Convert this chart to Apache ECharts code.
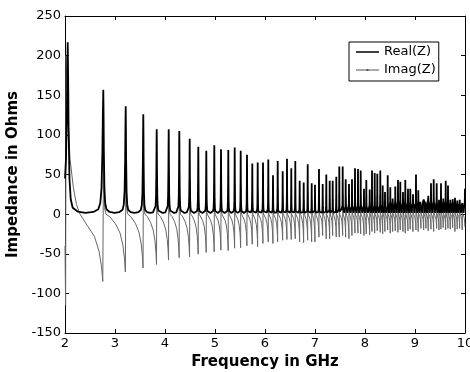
<!DOCTYPE html>
<html>
<head>
<meta charset="utf-8">
<script src="https://cdn.jsdelivr.net/npm/echarts@6/dist/echarts.min.js"></script>
<style>
  html, body { margin: 0; padding: 0; background: #fff; }
  #main { width: 470px; height: 372px; }
</style>
</head>
<body>
<div id="main"></div>
<script>
// 坐标轴刻度
var xTicks = [2, 3, 4, 5, 6, 7, 8, 9, 10];
var yTicks = [-150, -100, -50, 0, 50, 100, 150, 200, 250];

// 谐振频率 (GHz)
var peakGHz = [2.054, 2.766, 3.214, 3.566, 3.834, 4.074, 4.286, 4.494, 4.666, 4.826,
  4.986, 5.12, 5.266, 5.394, 5.514, 5.64, 5.746, 5.854, 5.96, 6.066,
  6.16, 6.254, 6.354, 6.44, 6.526, 6.606, 6.694, 6.774, 6.854, 6.934,
  7.0, 7.08, 7.154, 7.226, 7.294, 7.354, 7.426, 7.486, 7.554, 7.614,
  7.68, 7.74, 7.8, 7.86, 7.914, 7.98, 8.026, 8.094, 8.14, 8.194,
  8.246, 8.306, 8.354, 8.4, 8.454, 8.506, 8.554, 8.606, 8.66, 8.706,
  8.76, 8.806, 8.86, 8.906, 8.96, 9.02, 9.066, 9.12, 9.174, 9.22,
  9.266, 9.32, 9.374, 9.434, 9.48, 9.52, 9.566, 9.614, 9.66, 9.706,
  9.754, 9.8, 9.846, 9.894, 9.946, 9.998];
// Real(Z) 峰值
var realPeak = [217, 157, 136, 126, 107, 107, 105, 95, 85, 80,
  87, 82, 81, 84, 80, 75, 64, 65, 65, 69,
  49, 67, 54, 70, 58, 67, 42, 40, 63, 39,
  37, 57, 38, 50, 42, 42, 47, 60, 60, 44,
  38, 44, 58, 57, 55, 32, 43, 31, 55, 52,
  51, 55, 36, 28, 49, 34, 22, 35, 43, 41,
  28, 43, 32, 32, 25, 50, 30, 18, 19, 18,
  25, 39, 44, 39, 18, 39, 22, 42, 36, 18,
  21, 23, 19, 18, 15, 32];
// Imag(Z) 谷值 (每个峰之前)
var imagDip = [-115, -85, -73, -68, -63.5, -58, -55, -54, -50.5, -48.4,
  -47.5, -45.4, -46, -43, -42.5, -40, -38, -41, -37, -35,
  -37, -35, -33, -32, -32, -31, -35, -36, -33, -35,
  -35, -29, -27, -31, -31, -27, -29, -29, -27, -29,
  -31, -27, -24, -24, -25, -27, -25, -26, -22, -24,
  -21, -23, -25, -22, -20, -24, -22, -21, -23, -20,
  -22, -24, -21, -19, -22, -20, -22, -18, -20, -18,
  -21, -19, -22, -18, -20, -19, -17, -20, -18, -19,
  -17, -22, -19, -18, -20, -16];

// 2 GHz 起点附近的曲线
var realLead = [[2.0, 45], [2.02, 70], [2.036, 120]];
var imagLead = [[2.0, -40], [2.012, -115], [2.022, 200], [2.06, 120], [2.1, 70], [2.166, 34], [2.23, 12], [2.3, 0]];
// Real(Z) 峰间最低值
var realBase = 1.5;
// 高频段峰脚抬高 (阶梯, 从图上读出)
var realFoot = [[2, 0], [7.5, 5], [8.5, 9], [9.1, 14], [9.3, 9]];
// 单峰形状: [离峰距离/峰间距, 峰高比例]
var realShape = [[0.012, 0.8], [0.025, 0.5], [0.05, 0.2], [0.085, 0.08], [0.14, 0.03], [0.28, 0.008]];
// 峰间虚部形状: [间距比例, 上冲比例, 谷值比例]
var imagShape = [[0.01, 1, 0], [0.05, 0.12, 0], [0.12, 0, 0], [0.3, 0, 0.05], [0.55, 0, 0.17],
  [0.75, 0, 0.33], [0.88, 0, 0.55], [0.95, 0, 0.78], [0.985, 0, 1]];

function footAt(f) {
  var v = realFoot[0][1];
  for (var i = 0; i < realFoot.length; i++) {
    if (realFoot[i][0] <= f) v = realFoot[i][1];
  }
  return v;
}

function buildReal() {
  var pts = realLead.slice();
  var n = peakGHz.length;
  for (var i = 0; i < n; i++) {
    var f = peakGHz[i], h = realPeak[i], foot = realBase + footAt(f);
    var gL = i > 0 ? f - peakGHz[i - 1] : 0;
    var gR = i < n - 1 ? peakGHz[i + 1] - f : 0;
    // 左侧
    if (i > 0) {
      for (var j = realShape.length - 1; j >= 0; j--) {
        pts.push([f - realShape[j][0] * gL, foot + realShape[j][1] * (h - foot)]);
      }
    }
    pts.push([f, h]);
    // 右侧
    if (i < n - 1) {
      for (var j = 0; j < realShape.length; j++) {
        pts.push([f + realShape[j][0] * gR, foot + realShape[j][1] * (h - foot)]);
      }
      pts.push([f + 0.5 * gR, realBase]);
    }
  }
  return pts;
}

function buildImag() {
  var pts = imagLead.slice();
  var n = peakGHz.length;
  for (var i = 0; i < n - 1; i++) {
    var f = peakGHz[i], g = peakGHz[i + 1] - f;
    var rise = 0.45 * realPeak[i];
    for (var j = 0; j < imagShape.length; j++) {
      var x = f + imagShape[j][0] * g;
      if (x <= pts[pts.length - 1][0]) continue;
      pts.push([x, imagShape[j][1] * rise + imagShape[j][2] * imagDip[i + 1]]);
    }
  }
  return pts;
}

var font = 'DejaVu Sans';
var myChart = echarts.init(document.getElementById('main'), null, { renderer: 'canvas' });

function axisCommon(ticks) {
  return {
    type: 'value',
    min: ticks[0],
    max: ticks[ticks.length - 1],
    interval: ticks[1] - ticks[0],
    axisLine: { show: true, onZero: false, lineStyle: { color: '#000', width: 1 } },
    axisTick: { show: true, inside: true, length: 4, lineStyle: { color: '#000' } },
    splitLine: { show: false }
  };
}

var option = {
  animation: false,
  backgroundColor: '#fff',
  grid: { left: 65, right: 5, top: 16, bottom: 39, containLabel: false, outerBoundsMode: 'none' },
  legend: {
    orient: 'vertical',
    left: 349,
    top: 42,
    padding: [3, 3, 4, 7],
    itemWidth: 23,
    itemHeight: 7,
    itemGap: 4,
    borderColor: '#000',
    borderWidth: 1,
    backgroundColor: '#fff',
    textStyle: { fontFamily: font, fontSize: 13, color: '#000', lineHeight: 14 },
    data: [
      { name: 'Real(Z)', icon: 'path://M0,0H0.01V0.01Z M0,2.8H23V4.2H0Z M22.99,7H23V6.99Z', itemStyle: { color: '#000', borderWidth: 0 } },
      { name: 'Imag(Z)', icon: 'path://M0,0H0.01V0.01Z M0,3.1H23V3.9H0Z M10.5,2.5H12.5V4.5H10.5Z M22.99,7H23V6.99Z', itemStyle: { color: '#555', borderWidth: 0 } }
    ]
  },
  xAxis: [
    Object.assign(axisCommon(xTicks), {
      position: 'bottom',
      axisLabel: { fontFamily: font, fontSize: 13, color: '#000', margin: 4 },
      name: 'Frequency in GHz',
      nameLocation: 'middle',
      nameGap: 17,
      nameTextStyle: { fontFamily: font, fontSize: 15, fontWeight: 'bold', color: '#000' }
    }),
    Object.assign(axisCommon(xTicks), { position: 'top', axisLabel: { show: false } })
  ],
  yAxis: [
    Object.assign(axisCommon(yTicks), {
      position: 'left',
      axisLabel: { fontFamily: font, fontSize: 13, color: '#000', margin: 4 },
      name: 'Impedance in Ohms',
      nameLocation: 'middle',
      nameGap: 36,
      nameTextStyle: { fontFamily: font, fontSize: 15, fontWeight: 'bold', color: '#000' }
    }),
    Object.assign(axisCommon(yTicks), { position: 'right', axisLabel: { show: false } })
  ],
  series: [
    {
      name: 'Real(Z)',
      type: 'line',
      xAxisIndex: 0,
      yAxisIndex: 0,
      symbol: 'none',
      z: 3,
      lineStyle: { color: '#000', width: 1.8, join: 'bevel' },
      itemStyle: { color: '#000' },
      data: buildReal()
    },
    {
      name: 'Imag(Z)',
      type: 'line',
      xAxisIndex: 0,
      yAxisIndex: 0,
      symbol: 'none',
      z: 2,
      lineStyle: { color: '#666', width: 1, join: 'bevel' },
      itemStyle: { color: '#555' },
      data: buildImag()
    }
  ]
};
myChart.setOption(option);
</script>
</body>
</html>
